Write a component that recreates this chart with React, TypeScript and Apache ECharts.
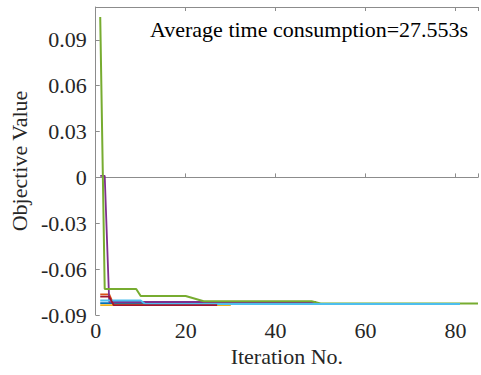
import React, { useEffect, useRef } from "react";
import * as echarts from "echarts";

// Each run: [iteration, objective value] at corner points of its step curve
const run1Blue: [number, number][] = [[1, -0.0822], [29, -0.0822]];
const run2Orange: [number, number][] = [[1, -0.0765], [3, -0.0765], [4, -0.0832], [30, -0.0832]];
const run3Yellow: [number, number][] = [[1, -0.0835], [30, -0.0835]];
const run4Purple: [number, number][] = [[1, 0.001], [2, 0.001], [3, -0.0815], [49, -0.0815]];
const run5Green: [number, number][] = [
  [1, 0.105], [2, -0.073], [9, -0.073], [10, -0.0776], [20, -0.0776],
  [24, -0.081], [48, -0.081], [50, -0.0825], [85, -0.0825],
];
const run6Cyan: [number, number][] = [[1, -0.0805], [10, -0.0805], [11, -0.0828], [81, -0.0828]];
const run7Red: [number, number][] = [[1, -0.078], [3, -0.078], [4, -0.0836], [27, -0.0836]];

const runs = [run1Blue, run2Orange, run3Yellow, run4Purple, run5Green, run6Cyan, run7Red];
const runColors = ["#0072BD", "#D95319", "#EDB120", "#7E2F8E", "#77AC30", "#4DBEEE", "#A2142F"];

const xTicks = [0, 20, 40, 60, 80];
const yTicks = [-0.09, -0.06, -0.03, 0, 0.03, 0.06, 0.09];

const FS = 22;

export default function App() {
  const ref = useRef<HTMLDivElement>(null);
  useEffect(() => {
    if (!ref.current) return;
    const chart = echarts.init(ref.current, undefined, { renderer: "svg" });
    const axisColor = "#8c8c8c";
    const labelColor = "#262626";
    chart.setOption({
      animation: false,
      textStyle: { fontFamily: "Liberation Serif" },
      grid: { left: 92, right: 0, top: 7, bottom: 60 },
      xAxis: [
        {
          type: "value",
          min: 0,
          max: 85,
          interval: 20,
          name: "Iteration No.",
          nameLocation: "middle",
          nameGap: 29,
          nameTextStyle: { fontFamily: "Times New Roman", fontSize: FS, color: labelColor },
          axisLine: { lineStyle: { color: axisColor, width: 1 } },
          axisTick: { inside: true, length: 4, lineStyle: { color: axisColor } },
          axisLabel: {
            fontFamily: "serif",
            fontSize: FS,
            color: labelColor,
            margin: 4,
            formatter: (v: number) => (xTicks.includes(Math.round(v)) && Math.abs(v - Math.round(v)) < 1e-9 ? String(v) : ""),
          },
          splitLine: { show: false },
        },
        {
          type: "value",
          position: "top",
          min: 0,
          max: 85,
          interval: 20,
          axisLine: { show: true, lineStyle: { color: axisColor, width: 1 } },
          axisTick: { show: true, inside: true, length: 4, lineStyle: { color: axisColor } },
          axisLabel: { show: false },
          splitLine: { show: false },
        },
      ],
      yAxis: [
        {
          type: "value",
          min: -0.09,
          max: 0.1115,
          interval: 0.03,
          name: "Objective Value",
          nameLocation: "middle",
          nameGap: 58,
          nameTextStyle: { fontSize: FS, color: labelColor },
          axisLine: { show: true, lineStyle: { color: axisColor, width: 1 } },
          axisTick: { show: true, inside: true, length: 4, lineStyle: { color: axisColor } },
          axisLabel: {
            fontFamily: "Liberation Serif",
            fontSize: FS,
            color: labelColor,
            margin: 9,
            formatter: (v: number) => {
              const t = yTicks.find((y) => Math.abs(y - v) < 1e-9);
              if (t === undefined) return "";
              return t === 0 ? "0" : t.toFixed(2);
            },
          },
          splitLine: { show: false },
        },
      ],
      graphic: [
        {
          type: "text",
          x: 150,
          y: 29,
          style: {
            text: "Average time consumption=27.553s",
            fontFamily: "Liberation Serif",
            fontSize: FS,
            fill: "#000000",
            verticalAlign: "middle",
          },
        },
      ],
      series: runs.map((d, i) => ({
        type: "line",
        data: d,
        showSymbol: false,
        symbol: "none",
        lineStyle: { color: runColors[i], width: i === 4 ? 2 : 1.8 },
        itemStyle: { color: runColors[i] },
        z: 2 + i,
      })),
    });
    return () => chart.dispose();
  }, []);
  return (
    <div
      ref={ref}
      style={{ position: "absolute", left: 0, top: 0, width: 481, height: 375, background: "#ffffff" }}
    />
  );
}
